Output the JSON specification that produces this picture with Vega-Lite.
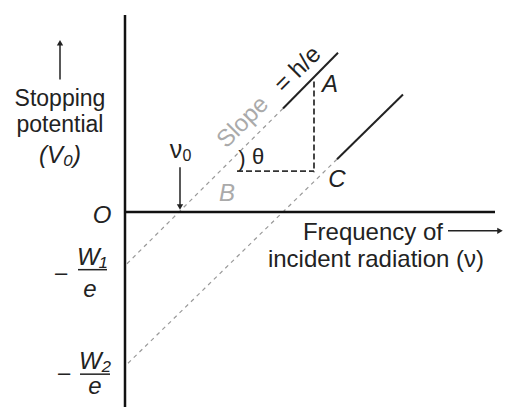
{
  "$schema": "https://vega.github.io/schema/vega-lite/v6.json",
  "autosize": {"type": "fit", "contains": "padding"},
  "width": 507,
  "height": 409,
  "padding": 0,
  "background": "white",
  "config": {"view": {"stroke": null}, "text": {"font": "Liberation Sans", "baseline": "middle"}},
  "datasets": {
    "axes": [
      {"x": 0, "y": 19.8, "x2": 0, "y2": -19.6},
      {"x": 0, "y": 0, "x2": 37.0, "y2": 0}
    ],
    "solid": [
      {"x": 15.8, "y": 10.4, "x2": 21.3, "y2": 16.0},
      {"x": 21.2, "y": 5.3, "x2": 27.8, "y2": 11.8}
    ],
    "thin": [
      {"x": -6.5, "y": 13.3, "x2": -6.5, "y2": 17.0},
      {"x": 32.3, "y": -1.9, "x2": 37.4, "y2": -1.9},
      {"x": 5.5, "y": 4.5, "x2": 5.5, "y2": 0.7},
      {"x": -4.7, "y": -5.8, "x2": -1.8, "y2": -5.8},
      {"x": -4.5, "y": -16.3, "x2": -1.5, "y2": -16.3}
    ],
    "dashed": [
      {"x": 18.9, "y": 13.1, "x2": 18.9, "y2": 4.0},
      {"x": 11.2, "y": 4.1, "x2": 18.9, "y2": 4.1}
    ],
    "faint": [
      {"x": 0.2, "y": -5.2, "x2": 15.8, "y2": 10.4},
      {"x": 0.3, "y": -15.2, "x2": 21.2, "y2": 5.3}
    ],
    "headUp": [{"x": -6.5, "y": 17.0}],
    "headDown": [{"x": 5.5, "y": 0.5}],
    "headRight": [{"x": 37.5, "y": -1.9}],
    "upright": [
      {"x": -6.5, "y": 11.4, "label": "Stopping"},
      {"x": -6.5, "y": 8.7, "label": "potential"}
    ],
    "italic": [
      {"x": -6.5, "y": 5.6, "label": "(V₀)"},
      {"x": 20.5, "y": 12.8, "label": "A"},
      {"x": 21.2, "y": 3.2, "label": "C"},
      {"x": -2.3, "y": -0.4, "label": "O"},
      {"x": -3.3, "y": -4.6, "label": "W₁"},
      {"x": -3.5, "y": -7.8, "label": "e"},
      {"x": -3.0, "y": -15.1, "label": "W₂"},
      {"x": -3.0, "y": -17.6, "label": "e"}
    ],
    "italicFaint": [
      {"x": 10.2, "y": 1.8, "label": "B"}
    ],
    "rightText": [
      {"x": 31.8, "y": -2.1, "label": "Frequency of"},
      {"x": 35.9, "y": -4.8, "label": "incident radiation (ν)"}
    ],
    "nu": [{"x": 5.1, "y": 6.2, "label": "ν"}],
    "sub": [{"x": 6.2, "y": 5.6, "label": "0"}],
    "small": [
      {"x": 13.3, "y": 5.5, "label": "θ"},
      {"x": 11.7, "y": 5.3, "label": ")"},
      {"x": -6.4, "y": -6.1, "label": "–"},
      {"x": -6.1, "y": -16.2, "label": "–"}
    ],
    "slopeFaint": [{"x": 11.8, "y": 9.0, "label": "Slope"}],
    "slopeDark": [{"x": 17.3, "y": 14.3, "label": "= h/e"}]
  },
  "encoding": {
    "x": {"field": "x", "type": "quantitative", "scale": {"domain": [-12.5, 38.2], "nice": false, "zero": false}, "axis": null},
    "y": {"field": "y", "type": "quantitative", "scale": {"domain": [-19.6, 21.3], "nice": false, "zero": false}, "axis": null}
  },
  "layer": [
    {"data": {"name": "faint"}, "mark": {"type": "rule", "color": "#999", "strokeWidth": 1.2, "strokeDash": [4, 4]},
     "encoding": {"x2": {"field": "x2"}, "y2": {"field": "y2"}}},
    {"data": {"name": "axes"}, "mark": {"type": "rule", "color": "#111", "strokeWidth": 2.5},
     "encoding": {"x2": {"field": "x2"}, "y2": {"field": "y2"}}},
    {"data": {"name": "solid"}, "mark": {"type": "rule", "color": "#222", "strokeWidth": 2},
     "encoding": {"x2": {"field": "x2"}, "y2": {"field": "y2"}}},
    {"data": {"name": "thin"}, "mark": {"type": "rule", "color": "#222", "strokeWidth": 1.5},
     "encoding": {"x2": {"field": "x2"}, "y2": {"field": "y2"}}},
    {"data": {"name": "dashed"}, "mark": {"type": "rule", "color": "#333", "strokeWidth": 1.8, "strokeDash": [6, 3]},
     "encoding": {"x2": {"field": "x2"}, "y2": {"field": "y2"}}},
    {"data": {"name": "headUp"}, "mark": {"type": "point", "shape": "triangle-up", "filled": true, "color": "#222", "size": 40, "opacity": 1}},
    {"data": {"name": "headDown"}, "mark": {"type": "point", "shape": "triangle-down", "filled": true, "color": "#222", "size": 40, "opacity": 1}},
    {"data": {"name": "headRight"}, "mark": {"type": "point", "shape": "triangle-right", "filled": true, "color": "#222", "size": 40, "opacity": 1}},
    {"data": {"name": "upright"}, "mark": {"type": "text", "fontSize": 23, "color": "#222", "align": "center"},
     "encoding": {"text": {"field": "label"}}},
    {"data": {"name": "italic"}, "mark": {"type": "text", "fontSize": 24, "fontStyle": "italic", "color": "#222", "align": "center"},
     "encoding": {"text": {"field": "label"}}},
    {"data": {"name": "italicFaint"}, "mark": {"type": "text", "fontSize": 24, "fontStyle": "italic", "color": "#aaa", "align": "center"},
     "encoding": {"text": {"field": "label"}}},
    {"data": {"name": "rightText"}, "mark": {"type": "text", "fontSize": 24, "color": "#222", "align": "right"},
     "encoding": {"text": {"field": "label"}}},
    {"data": {"name": "nu"}, "mark": {"type": "text", "fontSize": 25, "color": "#222", "align": "center"},
     "encoding": {"text": {"field": "label"}}},
    {"data": {"name": "sub"}, "mark": {"type": "text", "fontSize": 16, "color": "#222", "align": "center"},
     "encoding": {"text": {"field": "label"}}},
    {"data": {"name": "small"}, "mark": {"type": "text", "fontSize": 22, "color": "#222", "align": "center"},
     "encoding": {"text": {"field": "label"}}},
    {"data": {"name": "slopeFaint"}, "mark": {"type": "text", "fontSize": 24, "color": "#aaa", "align": "center", "angle": -45},
     "encoding": {"text": {"field": "label"}}},
    {"data": {"name": "slopeDark"}, "mark": {"type": "text", "fontSize": 24, "color": "#222", "align": "center", "angle": -45},
     "encoding": {"text": {"field": "label"}}}
  ]
}
